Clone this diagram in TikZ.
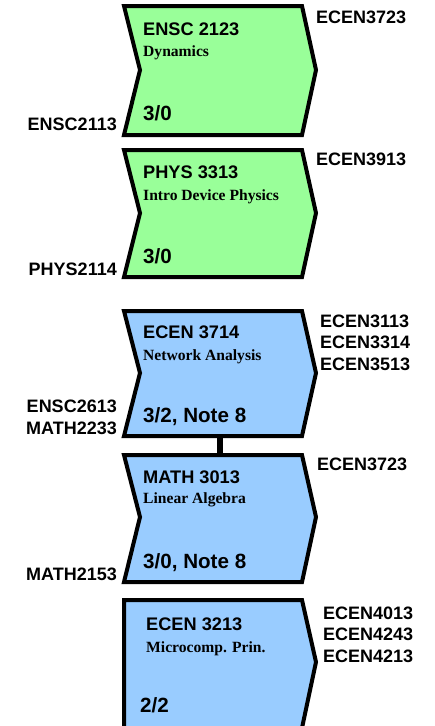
\documentclass[tikz,border=0pt]{standalone}
\usepackage{fontspec}
\setmainfont{Liberation Sans}
\newfontfamily\seriffont{Liberation Serif}
\definecolor{boxgreen}{RGB}{153,255,153}
\definecolor{boxblue}{RGB}{153,204,255}
\begin{document}
\begin{tikzpicture}[x=1pt,y=-1pt,
  course/.style={draw=black,line width=4pt,line join=miter},
  ttl/.style={anchor=base west,inner sep=0pt,font=\fontsize{18.2}{20}\selectfont\bfseries},
  sub/.style={anchor=base west,inner sep=0pt,font=\fontsize{15.6}{17}\selectfont\seriffont\bfseries},
  cred/.style={anchor=base west,inner sep=0pt,font=\fontsize{20.6}{22}\selectfont\bfseries},
  rlab/.style={anchor=base west,inner sep=0pt,font=\fontsize{18}{21.5}\selectfont\bfseries,align=left},
  llab/.style={anchor=base east,inner sep=0pt,font=\fontsize{18}{22}\selectfont\bfseries,align=right},
  link/.style={draw=black,line width=5.5pt}]
\useasboundingbox (0,0) rectangle (434,726);
\clip (0,0) rectangle (434,726);
% box 1
\fill[boxgreen] (124,6) -- (302,6) -- (316,70) -- (302,135) -- (124,135) -- (140,70) -- cycle;
\draw[course] (124,6) -- (302,6) -- (316,70) -- (302,135) -- (124,135) -- (140,70) -- cycle;
\node[ttl] (t1) at (143,35) {ENSC 2123};
\node[sub] (s1) at (143,56) {Dynamics};
\node[cred] (c1) at (143,120) {3/0};
\node[rlab] (r1) at (316,23) {ECEN3723};
\node[llab] (l1) at (117,130) {ENSC2113};
% box 2
\fill[boxgreen] (124,150) -- (302,150) -- (316,213) -- (302,277) -- (124,277) -- (140,213) -- cycle;
\draw[course] (124,150) -- (302,150) -- (316,213) -- (302,277) -- (124,277) -- (140,213) -- cycle;
\node[ttl] (t2) at (143,178) {PHYS 3313};
\node[sub] (s2) at (143,200) {Intro Device Physics};
\node[cred] (c2) at (143,263) {3/0};
\node[rlab] (r2) at (316,165) {ECEN3913};
\node[llab] (l2) at (117,275) {PHYS2114};
% box 3
\fill[boxblue] (124,311) -- (302,311) -- (316,373) -- (302,436) -- (124,436) -- (140,373) -- cycle;
\draw[course] (124,311) -- (302,311) -- (316,373) -- (302,436) -- (124,436) -- (140,373) -- cycle;
\coordinate (b3) at (220,436);
\node[ttl] (t3) at (143,338) {ECEN 3714};
\node[sub] (s3) at (143,360) {Network Analysis};
\node[cred] (c3) at (143,422) {3/2, Note 8};
\node[rlab] (r3) at (320,370) {ECEN3113\\ECEN3314\\ECEN3513};
\node[llab] (l3) at (117,434) {ENSC2613\\MATH2233};
% box 4
\fill[boxblue] (124,455) -- (302,455) -- (316,517) -- (302,582) -- (124,582) -- (140,517) -- cycle;
\draw[course] (124,455) -- (302,455) -- (316,517) -- (302,582) -- (124,582) -- (140,517) -- cycle;
\coordinate (a4) at (220,455);
\node[ttl] (t4) at (143,483) {MATH 3013};
\node[sub] (s4) at (143,503) {Linear Algebra};
\node[cred] (c4) at (143,568) {3/0, Note 8};
\node[rlab] (r4) at (317,470) {ECEN3723};
\node[llab] (l4) at (117,580) {MATH2153};
% link
\draw[link] (b3) -- (a4);
% box 5
\fill[boxblue] (124,600) -- (302,600) -- (316,662) -- (302,728) -- (124,728) -- cycle;
\draw[course] (124,600) -- (302,600) -- (316,662) -- (302,728) -- (124,728) -- cycle;
\node[ttl] (t5) at (146,630) {ECEN 3213};
\node[sub] (s5) at (146,652) {Microcomp. Prin.};
\node[cred] (c5) at (140,712) {2/2};
\node[rlab] (r5) at (323,662) {ECEN4013\\ECEN4243\\ECEN4213};
\end{tikzpicture}
\end{document}
